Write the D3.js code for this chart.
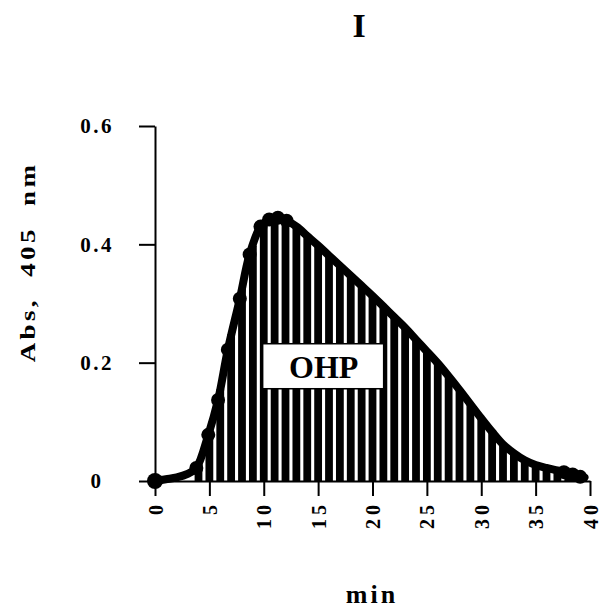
<!DOCTYPE html>
<html><head><meta charset="utf-8">
<script src="https://cdn.jsdelivr.net/npm/d3@7"></script>
<style>body{margin:0;background:#fff}</style>
</head><body>
<svg id="c" width="604" height="610"></svg>
<script>
const title = "I";
const xLabel = "min";
const yLabel = "Abs,  405  nm";
const boxLabel = "OHP";
const xTicks = [0,5,10,15,20,25,30,35,40];
const yTicks = [0,0.2,0.4,0.6];
const yTickLabels = ["0","0.2","0.4","0.6"];

// elution profile (min, Abs 405 nm)
const curveMin = [0,1,2,3,3.8,4.9,5.8,6.7,7.8,8.7,9.7,10.5,11.3,12.1,13,14,15,16,17,18,19,20,21,22,23,24,25,26,27,28,29,30,31,32,33,34,35,36,37,38,39,39.5];
const curveAbs = [0,0.003,0.006,0.012,0.022,0.078,0.137,0.222,0.308,0.383,0.43,0.442,0.445,0.44,0.43,0.414,0.398,0.381,0.364,0.347,0.330,0.313,0.295,0.277,0.259,0.239,0.219,0.199,0.177,0.154,0.13,0.106,0.083,0.062,0.047,0.035,0.027,0.022,0.018,0.014,0.009,0.006];

// measured points shown as dots
const dotMin = [0,3.8,4.9,5.8,6.7,7.8,8.7,9.7,10.5,11.3,12.1,37.6,38.4,39.1];
const dotAbs = [0,0.022,0.078,0.137,0.222,0.308,0.383,0.43,0.442,0.445,0.44,0.015,0.011,0.007];

// hatching bars (one per fraction)
const barMin = [4,5,6,7,8,9,10,11,12,13,14,15,16,17,18,19,20,21,22,23,24,25,26,27,28,29,30,31,32,33,34,35,36,37,38,39];
const barAbs = [0.03,0.088,0.155,0.248,0.325,0.398,0.435,0.444,0.441,0.43,0.414,0.398,0.381,0.364,0.347,0.330,0.313,0.295,0.277,0.259,0.239,0.219,0.199,0.177,0.154,0.13,0.106,0.083,0.062,0.047,0.035,0.027,0.022,0.018,0.014,0.009];

const FONT = "'Liberation Serif','Times New Roman',serif";
const svg = d3.select("#c");
const x = d3.scaleLinear().domain([0,40]).range([155,590]);
const y = d3.scaleLinear().domain([0,0.6]).range([481,126]);

// bars
svg.append("g").selectAll("rect").data(barMin).join("rect")
  .attr("x", d => x(d) - 3.9)
  .attr("width", 7.8)
  .attr("y", (d,i) => y(barAbs[i]))
  .attr("height", (d,i) => y(0) - y(barAbs[i]))
  .attr("fill", "#000");

// curve
const pts = curveMin.map((m,i) => [m, curveAbs[i]]);
svg.append("path").datum(pts)
  .attr("d", d3.line().x(d => x(d[0])).y(d => y(d[1])).curve(d3.curveCatmullRom))
  .attr("fill","none").attr("stroke","#000").attr("stroke-width",8)
  .attr("stroke-linejoin","round").attr("stroke-linecap","round");

// dots
svg.append("g").selectAll("circle").data(dotMin).join("circle")
  .attr("cx", d => x(d)).attr("cy", (d,i) => y(dotAbs[i]))
  .attr("r", (d,i) => i === 0 ? 8 : 7).attr("fill","#000");

// axes
const ya = svg.append("g").attr("transform","translate(155,0)")
  .call(d3.axisLeft(y).tickValues(yTicks).tickSize(16).tickSizeOuter(0)
    .tickFormat((d,i) => yTickLabels[i]));
ya.select(".domain").attr("stroke-width",2);
ya.selectAll(".tick line").attr("stroke-width",2);
ya.selectAll(".tick text").attr("x",-58).attr("text-anchor","middle")
  .style("font-family",FONT).style("font-weight","bold").style("font-size","21px")
  .style("letter-spacing","2.5px").attr("fill","#000");

const xa = svg.append("g").attr("transform","translate(0,481)")
  .call(d3.axisBottom(x).tickValues(xTicks).tickSize(15).tickSizeOuter(0));
xa.select(".domain").attr("stroke-width",2);
xa.selectAll(".tick line").attr("stroke-width",2);
xa.selectAll(".tick text").attr("transform","rotate(-90)")
  .attr("x",-20).attr("y",0).attr("dy","0.35em").attr("text-anchor","end")
  .style("font-family",FONT).style("font-weight","bold").style("font-size","20px")
  .style("letter-spacing","4px").attr("fill","#000");

// OHP box
svg.append("rect").attr("x", x(9.9)).attr("y", y(0.232)).attr("width",121).attr("height",45)
  .attr("fill","#fff").attr("stroke","#000").attr("stroke-width",1.5);
svg.append("text").attr("x", x(9.9)+61).attr("y", y(0.232)+34).attr("text-anchor","middle")
  .style("font-family",FONT).style("font-weight","bold").style("font-size","32px")
  .text(boxLabel);

// titles
svg.append("text").attr("x",359).attr("y",37).attr("text-anchor","middle")
  .style("font-family",FONT).style("font-weight","bold").style("font-size","34px").text(title);
svg.append("text").attr("x",372).attr("y",603).attr("text-anchor","middle")
  .style("font-family",FONT).style("font-weight","bold").style("font-size","26px")
  .style("letter-spacing","3px").text(xLabel);
svg.append("text").attr("transform","translate(35,262) rotate(-90) scale(1.35,1)").attr("text-anchor","middle")
  .style("font-family",FONT).style("font-weight","bold").style("font-size","20px")
  .style("letter-spacing","2.5px").style("white-space","pre").text(yLabel);
</script>
</body></html>
